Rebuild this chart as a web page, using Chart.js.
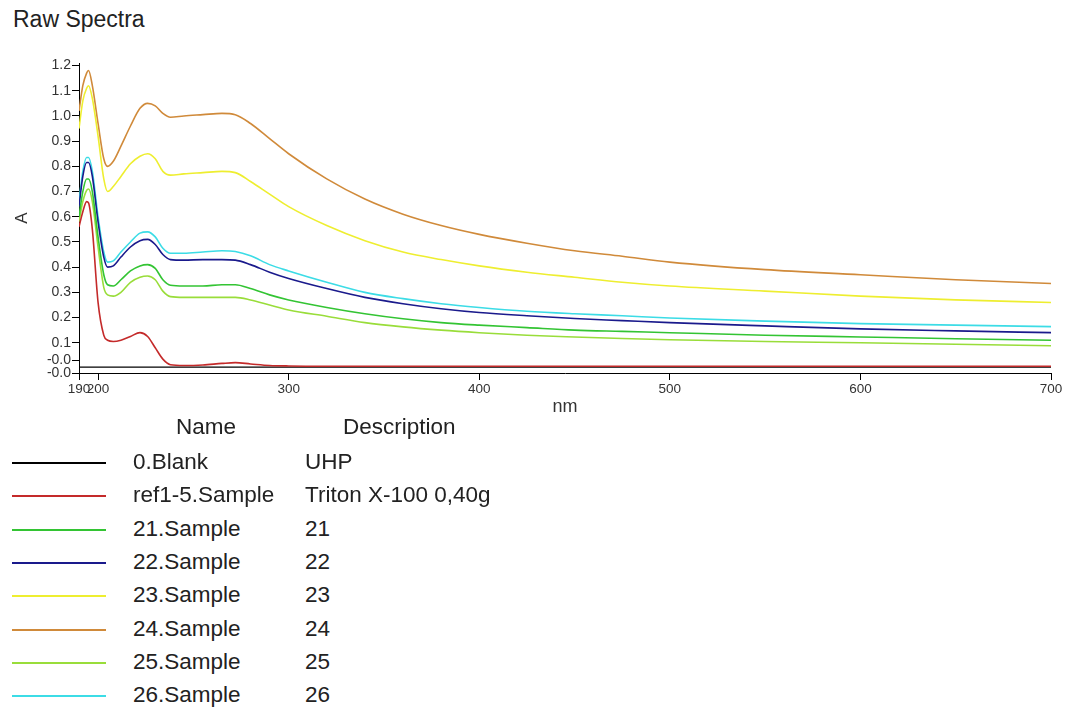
<!DOCTYPE html>
<html>
<head>
<meta charset="utf-8">
<script src="https://cdn.jsdelivr.net/npm/chart.js@4.4.1/dist/chart.umd.min.js"></script>
<style>
  html, body { margin: 0; padding: 0; background: #fff; }
  body { width: 1072px; height: 708px; position: relative; overflow: hidden; font-family: "Liberation Sans", Arial, sans-serif; color: #222; }
  #title { position: absolute; left: 13px; top: 6px; font-size: 23px; }
  #plot { position: absolute; left: 0; top: 0; width: 1072px; height: 420px; }
  .hdr, .cell { position: absolute; font-size: 22.5px; line-height: 26px; white-space: nowrap; }
  .swatch { position: absolute; left: 12px; width: 94px; height: 2px; }
</style>
</head>
<body>
<div id="title">Raw Spectra</div>
<div id="plot"><canvas id="spectraChart"></canvas></div>
<div id="legend"></div>
<script>
// wavelengths (nm) shared by all spectra
const nm = [190, 192, 194, 195, 197, 200, 203, 205, 208, 212, 217, 222, 226, 230, 234, 238, 245, 255, 265, 272, 280, 290, 300, 320, 340, 360, 380, 400, 425, 450, 475, 500, 550, 600, 650, 700];

const blank = [0.003, 0.003, 0.003, 0.003, 0.003, 0.003, 0.003, 0.003, 0.003, 0.003, 0.003, 0.003, 0.003, 0.003, 0.003, 0.003, 0.003, 0.003, 0.003, 0.003, 0.003, 0.003, 0.003, 0.003, 0.003, 0.003, 0.003, 0.003, 0.003, 0.003, 0.003, 0.003, 0.003, 0.003, 0.003, 0.003];
const ref15 = [0.56, 0.62, 0.66, 0.655, 0.55, 0.26, 0.13, 0.11, 0.105, 0.11, 0.125, 0.14, 0.125, 0.08, 0.035, 0.013, 0.01, 0.012, 0.018, 0.021, 0.016, 0.01, 0.008, 0.007, 0.007, 0.007, 0.007, 0.007, 0.007, 0.007, 0.007, 0.007, 0.007, 0.007, 0.007, 0.007];
const s21 = [0.60, 0.70, 0.75, 0.75, 0.70, 0.52, 0.37, 0.33, 0.325, 0.35, 0.385, 0.405, 0.41, 0.395, 0.35, 0.328, 0.325, 0.325, 0.33, 0.33, 0.315, 0.29, 0.27, 0.24, 0.215, 0.195, 0.18, 0.17, 0.16, 0.15, 0.145, 0.14, 0.13, 0.123, 0.116, 0.11];
const s22 = [0.64, 0.76, 0.815, 0.815, 0.76, 0.58, 0.44, 0.40, 0.405, 0.44, 0.48, 0.505, 0.51, 0.49, 0.45, 0.43, 0.428, 0.43, 0.43, 0.428, 0.41, 0.38, 0.355, 0.315, 0.28, 0.255, 0.235, 0.22, 0.207, 0.196, 0.188, 0.18, 0.167, 0.155, 0.147, 0.14];
const s23 = [0.95, 1.06, 1.11, 1.12, 1.07, 0.92, 0.75, 0.70, 0.72, 0.76, 0.81, 0.84, 0.85, 0.83, 0.78, 0.765, 0.77, 0.775, 0.78, 0.775, 0.74, 0.69, 0.64, 0.565, 0.505, 0.46, 0.43, 0.405, 0.38, 0.36, 0.34, 0.325, 0.305, 0.285, 0.27, 0.26];
const s24 = [1.02, 1.12, 1.17, 1.18, 1.12, 0.97, 0.83, 0.80, 0.82, 0.88, 0.96, 1.03, 1.05, 1.04, 1.01, 0.995, 1.0, 1.005, 1.01, 1.005, 0.97, 0.91, 0.85, 0.75, 0.67, 0.61, 0.565, 0.53, 0.495, 0.465, 0.443, 0.42, 0.39, 0.37, 0.35, 0.335];
const s25 = [0.58, 0.66, 0.705, 0.71, 0.66, 0.48, 0.32, 0.29, 0.285, 0.30, 0.34, 0.36, 0.365, 0.35, 0.305, 0.283, 0.28, 0.28, 0.28, 0.28, 0.27, 0.25, 0.23, 0.205, 0.18, 0.163, 0.15, 0.14, 0.13, 0.123, 0.117, 0.112, 0.105, 0.10, 0.094, 0.088];
const s26 = [0.66, 0.78, 0.835, 0.835, 0.78, 0.60, 0.46, 0.42, 0.425, 0.46, 0.50, 0.535, 0.54, 0.52, 0.475, 0.455, 0.455, 0.46, 0.465, 0.462, 0.445, 0.41, 0.385, 0.34, 0.30, 0.275, 0.255, 0.24, 0.225, 0.215, 0.207, 0.198, 0.186, 0.176, 0.17, 0.164];

const names = ["0.Blank", "ref1-5.Sample", "21.Sample", "22.Sample", "23.Sample", "24.Sample", "25.Sample", "26.Sample"];
const descriptions = ["UHP", "Triton X-100 0,40g", "21", "22", "23", "24", "25", "26"];
const series = [blank, ref15, s21, s22, s23, s24, s25, s26];
const colors = ["#000000", "#c42a2a", "#33c433", "#1a1a8c", "#eeee30", "#d08a3a", "#99dd3a", "#3cdce6"];

const xTicks = [190, 200, 300, 400, 500, 600, 700];
const yTicks = [1.2, 1.1, 1.0, 0.9, 0.8, 0.7, 0.6, 0.5, 0.4, 0.3, 0.2, 0.1, 0.03, -0.02];
const yTickLabels = ["1.2", "1.1", "1.0", "0.9", "0.8", "0.7", "0.6", "0.5", "0.4", "0.3", "0.2", "0.1", "-0.0", "-0.0"];

const font = "'Liberation Sans', Arial, sans-serif";
const ink = "#333";

// legend table under the plot
const rowTop = 462;
const rowStep = 33.3;
let legendHtml = `<div class="hdr" style="left:176px;top:414px">Name</div>
  <div class="hdr" style="left:343px;top:414px">Description</div>`;
names.forEach((n, i) => {
  const y = Math.round(rowTop + i * rowStep);
  legendHtml += `<div class="swatch" style="top:${y}px;background:${colors[i]}"></div>
    <div class="cell" style="left:133px;top:${y - 13}px">${n}</div>
    <div class="cell" style="left:305px;top:${y - 13}px">${descriptions[i]}</div>`;
});
document.getElementById("legend").innerHTML = legendHtml;

new Chart(document.getElementById("spectraChart").getContext("2d"), {
  type: "line",
  data: {
    datasets: series.map((vals, i) => ({
      label: names[i],
      data: vals.map((v, j) => ({ x: nm[j], y: v })),
      borderColor: colors[i],
      borderWidth: i === 0 ? 1.2 : 1.6,
      pointRadius: 0,
      fill: false,
      cubicInterpolationMode: "monotone",
      order: i === 0 ? 10 : 0,
    })),
  },
  options: {
    responsive: true,
    maintainAspectRatio: false,
    animation: false,
    layout: { padding: { top: 63, right: 21, left: 0, bottom: 0 } },
    plugins: { legend: { display: false }, tooltip: { enabled: false } },
    scales: {
      x: {
        type: "linear",
        min: 190,
        max: 700,
        afterBuildTicks: (s) => { s.ticks = xTicks.map((v) => ({ value: v })); },
        afterFit: (s) => { s.height = 47; },
        grid: { drawOnChartArea: false, color: "#000", tickLength: 7 },
        border: { color: "#000", width: 1 },
        ticks: { color: ink, font: { family: font, size: 13.5 }, padding: 1, maxRotation: 0, autoSkip: false },
        title: { display: true, text: "nm", color: ink, font: { family: font, size: 18 }, padding: { top: 0, bottom: 2 } },
      },
      y: {
        min: -0.02,
        max: 1.21,
        afterBuildTicks: (s) => { s.ticks = yTicks.map((v) => ({ value: v })); },
        afterFit: (s) => { s.width = 79; },
        grid: { drawOnChartArea: false, color: "#000", tickLength: 7 },
        border: { color: "#000", width: 1 },
        ticks: { color: ink, font: { family: font, size: 14 }, padding: 1, autoSkip: false, callback: (v, i) => yTickLabels[i] },
        title: { display: true, text: "A", color: ink, font: { family: font, size: 17 }, padding: { top: 12, bottom: 0 } },
      },
    },
  },
});
</script>
</body>
</html>
